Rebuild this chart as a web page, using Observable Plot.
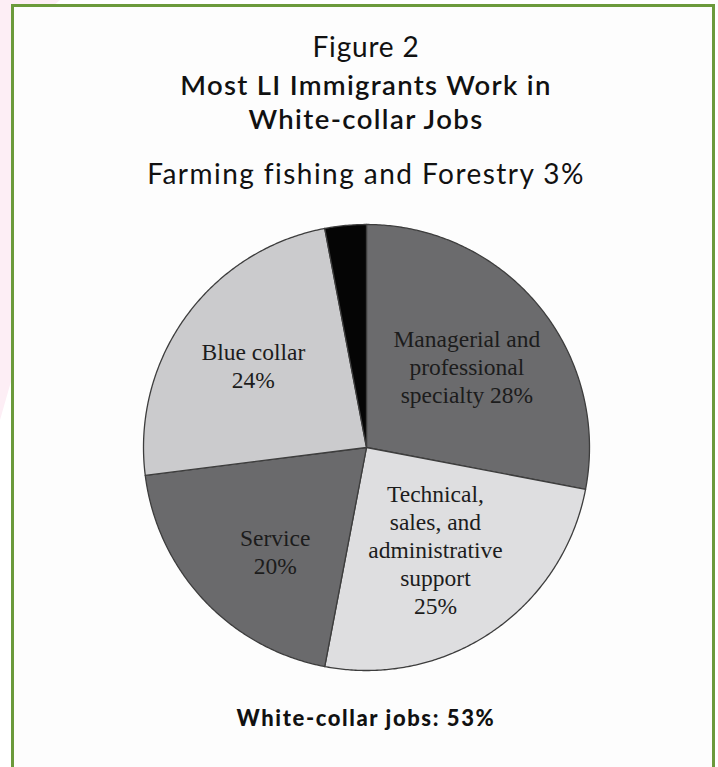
<!DOCTYPE html>
<html>
<head>
<meta charset="utf-8">
<script src="https://cdn.jsdelivr.net/npm/d3@7"></script>
<script src="https://cdn.jsdelivr.net/npm/@observablehq/plot@0.6"></script>
<style>
  html, body { margin: 0; padding: 0; background: #ffffff; }
  #page { position: relative; width: 718px; height: 767px; overflow: hidden; background: #ffffff; }
  #pink { position: absolute; left: 0; top: 0; width: 60px; height: 420px; background: #fdeef5;
          clip-path: polygon(0 0, 100% 0, 20% 10%, 20% 90%, 0 100%); }
  #box { position: absolute; left: 11px; top: 4px; width: 698px; height: 820px;
         border: 3px solid #6b9a3b; background: #fdfdfd; }
  .t { position: absolute; left: 7px; width: 718px; text-align: center; color: #111; font-family: Lato, "Open Sans", sans-serif; white-space: nowrap; }
  #fig { top: 30px; font-size: 28px; font-weight: 400; line-height: 32px; letter-spacing: 0.8px; }
  #title1 { top: 69px; font-size: 27.5px; font-weight: 600; line-height: 32px; letter-spacing: 1.3px; }
  #title2 { top: 103px; font-size: 27.5px; font-weight: 600; line-height: 32px; letter-spacing: 1.4px; }
  #sub { top: 157px; font-size: 28px; font-weight: 400; line-height: 32px; letter-spacing: 1.45px; }
  #cap { top: 704px; font-size: 22px; font-weight: 900; line-height: 28px; letter-spacing: 1.6px; }
  #chart { position: absolute; left: 0; top: 200px; }
</style>
</head>
<body>
<div id="page">
  <div id="pink"></div>
  <div id="box"></div>
  <div class="t" id="fig">Figure 2</div>
  <div class="t" id="title1">Most LI Immigrants Work in</div>
  <div class="t" id="title2">White-collar Jobs</div>
  <div class="t" id="sub">Farming fishing and Forestry 3%</div>
  <div id="chart"></div>
  <div class="t" id="cap">White-collar jobs: 53%</div>
</div>
<script>
// ---- data ----
const categories = [
  "Managerial and professional specialty",
  "Technical, sales, and administrative support",
  "Service",
  "Blue collar",
  "Farming fishing and Forestry"
];
const shares = [28, 25, 20, 24, 3];
const sliceLabels = [
  "Managerial and\nprofessional\nspecialty 28%",
  "Technical,\nsales, and\nadministrative\nsupport\n25%",
  "Service\n20%",
  "Blue collar\n24%",
  ""
];
const sliceColors = ["#6b6b6d", "#dedee0", "#6a6a6c", "#cbcbcd", "#050505"];
// label placement (layout only): radius fraction and angular nudge in degrees
const labelRadius = [0.58, 0.55, 0.62, 0.627, 0];
const labelTurn = [0.5, 0, -5.5, 0, 0];

// ---- build slice geometry (clockwise from 12 o'clock) ----
const total = d3.sum(shares);
let acc = 0;
const slices = categories.map((c, i) => {
  const a0 = acc / total * 2 * Math.PI;
  acc += shares[i];
  const a1 = acc / total * 2 * Math.PI;
  const mid = (a0 + a1) / 2 + labelTurn[i] * Math.PI / 180;
  return {cat: c, a0, a1, mid, r: labelRadius[i], label: sliceLabels[i]};
});
const pts = [];
for (const s of slices) {
  pts.push({cat: s.cat, x: 0, y: 0});
  const n = Math.max(4, Math.ceil((s.a1 - s.a0) / (Math.PI / 360)));
  for (let k = 0; k <= n; k++) {
    const t = s.a0 + (s.a1 - s.a0) * k / n;
    pts.push({cat: s.cat, x: Math.sin(t), y: Math.cos(t)});
  }
  pts.push({cat: s.cat, x: 0, y: 0});
}

const cx = 366, cy = 247, R = 223;
const chart = Plot.plot({
  width: 718,
  height: 500,
  x: {domain: [-1, 1], range: [cx - R, cx + R], axis: null},
  y: {domain: [-1, 1], range: [cy + R, cy - R], axis: null},
  color: {domain: categories, range: sliceColors},
  style: {background: "transparent", overflow: "visible"},
  marks: [
    Plot.line(pts, {x: "x", y: "y", z: "cat", fill: "cat", stroke: "#3d3d3d", strokeWidth: 1.3, strokeLinejoin: "round", curve: "linear"}),
    Plot.text(slices.filter(s => s.label), {
      x: s => s.r * Math.sin(s.mid),
      y: s => s.r * Math.cos(s.mid),
      text: "label",
      fontFamily: "'Liberation Serif', 'Times New Roman', serif",
      fontSize: 23.5,
      lineHeight: 1.19,
      fill: "#1c1c1c"
    })
  ]
});
document.getElementById("chart").appendChild(chart);
</script>
</body>
</html>
